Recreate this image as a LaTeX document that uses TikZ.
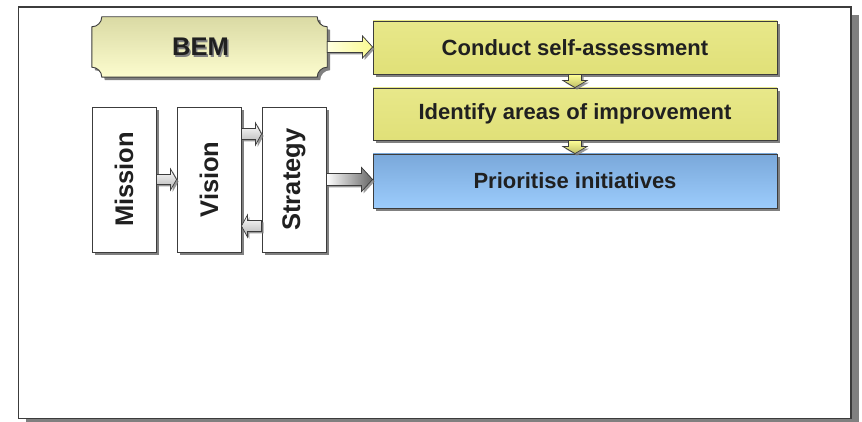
\documentclass[tikz,border=0pt]{standalone}
\usepackage{fontspec}
\setmainfont{Liberation Sans}
\usetikzlibrary{calc,shadows}

\definecolor{edge}{RGB}{60,60,60}
\definecolor{shadowgray}{RGB}{128,128,128}
\definecolor{inktext}{RGB}{32,32,32}
\definecolor{yelTop}{RGB}{232,232,138}
\definecolor{yelMid}{RGB}{255,255,150}
\definecolor{yelBot}{RGB}{224,224,120}
\definecolor{bluTop}{RGB}{122,168,218}
\definecolor{bluBot}{RGB}{156,204,252}
\definecolor{plqTop}{RGB}{218,218,164}
\definecolor{plqBot}{RGB}{252,252,206}

\tikzset{
  boxshadow/.style={drop shadow={shadow xshift=3pt, shadow yshift=-3pt, fill=shadowgray, opacity=1}},
  arrshadow/.style={drop shadow={shadow xshift=2pt, shadow yshift=-2pt, fill=shadowgray, opacity=0.8}},
  stepbox/.style={rectangle, draw=edge, line width=0.9pt, boxshadow,
    text=inktext, font=\bfseries\fontsize{22}{25}\selectfont},
  yellowbox/.style={stepbox, top color=yelTop, middle color=yelMid, bottom color=yelBot},
  bluebox/.style={stepbox, top color=bluTop, bottom color=bluBot},
  pillar/.style={rectangle, draw=edge, line width=0.9pt, fill=white, boxshadow,
    minimum width=64pt, minimum height=145pt, inner sep=0pt},
  pillartext/.style={rotate=90, text=inktext, font=\bfseries\fontsize{25.5}{28}\selectfont},
  blockarrow/.style={draw=edge, line width=0.7pt, arrshadow},
  % horizontal block arrow pointing right: shaft half height, head half height, head length
  rarrow/.style n args={3}{to path={let \p1=(\tikztostart), \p2=(\tikztotarget) in
    (\x1,\y1+#1) -- (\x2-#3,\y1+#1) -- (\x2-#3,\y1+#2) -- (\x2,\y1)
    -- (\x2-#3,\y1-#2) -- (\x2-#3,\y1-#1) -- (\x1,\y1-#1) -- cycle}},
  % horizontal block arrow pointing left
  larrow/.style n args={3}{to path={let \p1=(\tikztostart), \p2=(\tikztotarget) in
    (\x1,\y1+#1) -- (\x2+#3,\y1+#1) -- (\x2+#3,\y1+#2) -- (\x2,\y1)
    -- (\x2+#3,\y1-#2) -- (\x2+#3,\y1-#1) -- (\x1,\y1-#1) -- cycle}},
  % vertical block arrow pointing down
  darrow/.style n args={3}{to path={let \p1=(\tikztostart), \p2=(\tikztotarget) in
    (\x1-#1,\y1) -- (\x1-#1,\y2+#3) -- (\x1-#2,\y2+#3) -- (\x1,\y2)
    -- (\x1+#2,\y2+#3) -- (\x1+#1,\y2+#3) -- (\x1+#1,\y1) -- cycle}},
  grayarrow/.style={blockarrow, top color=white, bottom color=black!30},
  yeldown/.style={blockarrow, top color=yelMid, bottom color=yelBot!85!black},
  bemtext/.style={font=\bfseries\fontsize{25.5}{28}\selectfont},
}

\begin{document}
\begin{tikzpicture}[x=1pt,y=-1pt]
\useasboundingbox (0,0) rectangle (862,422);

% page frame with its shadow
\fill[shadowgray] (26,15) rectangle (859,422);
\draw[edge, line width=1.2pt, fill=white] (18.5,7) rectangle (851,418.5);

% process steps on the right
\node[yellowbox, minimum width=404pt, minimum height=53pt] (assess) at (575,47.5) {Conduct self-assessment};
\node[yellowbox, minimum width=404pt, minimum height=52pt] (identify) at (575,114) {Identify areas of improvement};
\node[bluebox, minimum width=404pt, minimum height=54pt] (prioritise) at (575,181) {Prioritise initiatives};

% business excellence model plaque
\node[minimum width=235pt, minimum height=60pt, inner sep=0pt] (bem) at (209.5,47) {};
\fill[shadowgray] let \p1=([xshift=3pt,yshift=-3pt]bem.north west), \p2=([xshift=3pt,yshift=-3pt]bem.south east) in
  (\x1+10pt,\y1) -- (\x2-10pt,\y1) arc[start angle=180, end angle=270, radius=10pt]
  -- (\x2,\y2+10pt) arc[start angle=90, end angle=180, radius=10pt]
  -- (\x1+10pt,\y2) arc[start angle=0, end angle=90, radius=10pt]
  -- (\x1,\y1-10pt) arc[start angle=270, end angle=360, radius=10pt] -- cycle;
\path[draw=edge, line width=0.9pt, top color=plqTop, bottom color=plqBot]
  let \p1=(bem.north west), \p2=(bem.south east) in
  (\x1+10pt,\y1) -- (\x2-10pt,\y1) arc[start angle=180, end angle=270, radius=10pt]
  -- (\x2,\y2+10pt) arc[start angle=90, end angle=180, radius=10pt]
  -- (\x1+10pt,\y2) arc[start angle=0, end angle=90, radius=10pt]
  -- (\x1,\y1-10pt) arc[start angle=270, end angle=360, radius=10pt] -- cycle;
\node[bemtext, text=shadowgray] at ([xshift=-7.5pt,yshift=-1.5pt]bem.center) {BEM};
\node[bemtext, text=inktext] at ([xshift=-9pt]bem.center) {BEM};

% mission, vision and strategy pillars
\node[pillar] (mission) at (124,179.5) {};
\node[pillartext] at (mission.center) {Mission};
\node[pillar] (vision) at (209,179.5) {};
\node[pillartext] at (vision.center) {Vision};
\node[pillar] (strategy) at (294,179.5) {};
\node[pillartext] at (strategy.center) {Strategy};

% connectors
\path[blockarrow, left color=yelMid!30!white, right color=yelMid!85!yelBot]
  (bem.east) to[rarrow={5.5pt}{11pt}{10pt}] (assess.west);
\path[yeldown] (assess.south) to[darrow={6.5pt}{12pt}{7pt}] (identify.north);
\path[yeldown] (identify.south) to[darrow={6.5pt}{12pt}{7pt}] (prioritise.north);
\path[grayarrow] (mission.east) to[rarrow={5pt}{10.5pt}{6pt}] (vision.west);
\path[grayarrow] ([yshift=45.5pt]vision.east) to[rarrow={5.5pt}{11pt}{6pt}] ([yshift=45.5pt]strategy.west);
\path[grayarrow] ([yshift=-46.5pt]strategy.west) to[larrow={5.5pt}{11pt}{6pt}] ([yshift=-46.5pt]vision.east);
\path[blockarrow, left color=white, right color=black!60]
  (strategy.east) to[rarrow={6pt}{12pt}{11pt}] (prioritise.west);
\end{tikzpicture}
\end{document}
